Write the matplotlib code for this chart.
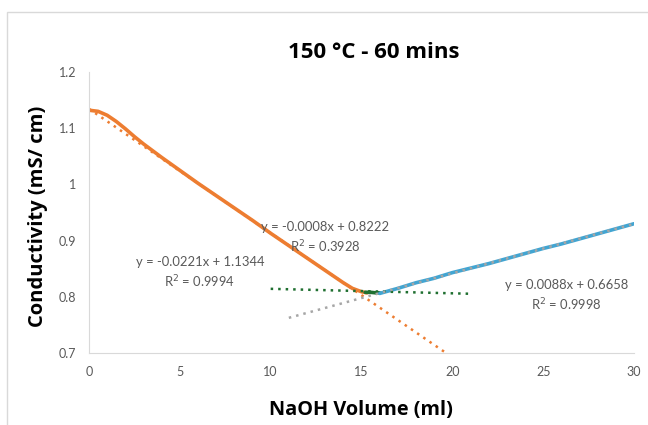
import numpy as np
import matplotlib.pyplot as plt
from matplotlib.patches import Rectangle

orange_x = [0, 0.5, 1.0, 1.5, 2.0, 2.5, 3, 3.5, 4, 5, 6, 7, 8, 9, 10, 11, 12, 13, 14, 14.5, 15.0, 15.3]
orange_y = [1.132, 1.130, 1.123, 1.112, 1.099, 1.085, 1.072, 1.060, 1.048, 1.025, 1.002, 0.980, 0.958, 0.936, 0.913, 0.891, 0.869, 0.847, 0.825, 0.815, 0.809, 0.807]
green_x = [15.2, 15.5, 15.8, 16.0]
green_y = [0.808, 0.808, 0.807, 0.807]
blue_x = [16, 17, 18, 19, 20, 21, 22, 23, 24, 25, 26, 27, 28, 29, 30]
blue_y = [0.806, 0.815, 0.825, 0.833, 0.843, 0.851, 0.859, 0.868, 0.877, 0.886, 0.894, 0.903, 0.912, 0.921, 0.930]

# trendlines: (slope, intercept, x range)
fits = {
    "orange": (-0.0221, 1.1344, 0, 19.6),
    "green": (-0.0008, 0.8222, 10, 21),
    "blue": (0.0088, 0.6658, 11, 30),
}
eq_text = {
    "orange": ("y = -0.0221x + 1.1344\nR$^2$ = 0.9994", 6.1, 0.843),
    "green": ("y = -0.0008x + 0.8222\nR$^2$ = 0.3928", 13.0, 0.905),
    "blue": ("y = 0.0088x + 0.6658\nR$^2$ = 0.9998", 26.3, 0.801),
}

ORANGE = "#ED7D31"
GREEN = "#1F6F30"
BLUE = "#42A5D2"
TXT = "#595959"

plt.rcParams['font.family'] = ['Lato', 'DejaVu Sans']

fig = plt.figure(figsize=(6.48, 4.25), dpi=100)
fig.patches.append(Rectangle((7 / 648, -0.01), 1.1, 1 - 12 / 425 + 0.01, transform=fig.transFigure,
                             fill=False, edgecolor="#D9D9D9", linewidth=1))
ax = fig.add_axes([89 / 648, 1 - 353 / 425, (634 - 89) / 648, (353 - 72) / 425])

ax.plot(orange_x, orange_y, color=ORANGE, lw=2.6, solid_capstyle="round")
ax.plot(green_x, green_y, color=GREEN, lw=2.6, solid_capstyle="round")
ax.plot(blue_x, blue_y, color=BLUE, lw=2.6, solid_capstyle="round")

trend_colors = {"orange": ORANGE, "green": GREEN, "blue": "#A6A6A6"}
for k, (m, b, x0, x1) in fits.items():
    xx = np.array([x0, x1])
    ax.plot(xx, m * xx + b, color=trend_colors[k], lw=1.8, linestyle=(0, (1, 2)))

for k, (s, tx, ty) in eq_text.items():
    ax.text(tx, ty, s, ha="center", va="center", fontsize=9.4, color=TXT, linespacing=1.4)

ax.set_xlim(0, 30)
ax.set_ylim(0.7, 1.2)
ax.set_xticks([0, 5, 10, 15, 20, 25, 30])
ax.set_yticks([0.7, 0.8, 0.9, 1.0, 1.1, 1.2])
ax.set_yticklabels(["0.7", "0.8", "0.9", "1", "1.1", "1.2"])
ax.tick_params(length=0, labelsize=9, labelcolor=TXT, pad=9)
for s in ["top", "right"]:
    ax.spines[s].set_visible(False)
for s in ["left", "bottom"]:
    ax.spines[s].set_color("#D9D9D9")

fig.text(374 / 648, 1 - 52 / 425, "150 °C - 60 mins", ha="center", va="center",
         fontsize=16, fontweight="bold", family=["Open Sans", "DejaVu Sans"])
fig.text(361 / 648, 1 - 410 / 425, "NaOH Volume (ml)", ha="center", va="center",
         fontsize=14.3, fontweight="bold", family=["Open Sans", "DejaVu Sans"])
fig.text(38 / 648, 1 - 216 / 425, "Conductivity (mS/ cm)", ha="center", va="center",
         rotation=90, fontsize=14.5, fontweight="bold", family=["Open Sans", "DejaVu Sans"])

fig.savefig("out.png", dpi=100)
